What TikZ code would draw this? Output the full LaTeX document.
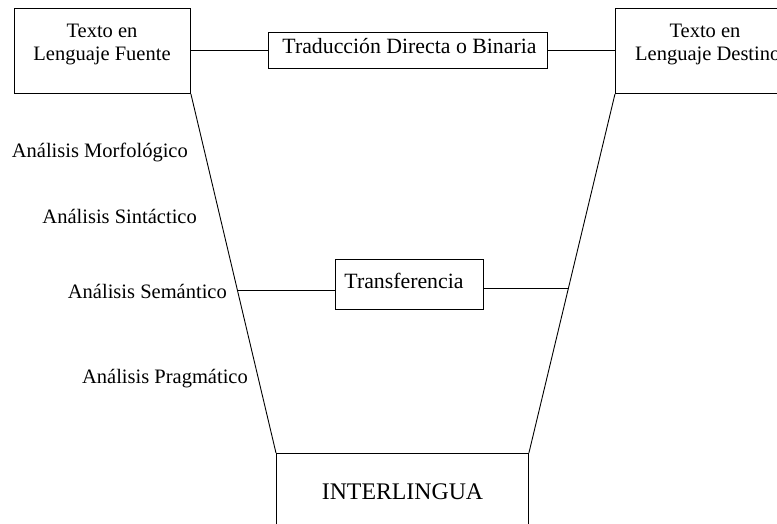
\documentclass[tikz,border=0pt]{standalone}
\usepackage{fontspec}
\setmainfont{Liberation Serif}
\usetikzlibrary{calc}
\begin{document}
\begin{tikzpicture}[x=1pt,y=-1pt,
  box/.style={draw, line width=0.9pt, inner sep=0pt},
  txt/.style={font=\fontsize{20.5}{23}\selectfont, inner sep=0pt},
  bigtxt/.style={font=\fontsize{21.8}{25}\selectfont, inner sep=0pt},
  link/.style={line width=0.9pt}]
\useasboundingbox (0,0) rectangle (777,523);
% boxes
\node[box, anchor=north west, minimum width=176pt, minimum height=85pt] (lf) at (14,8) {};
\node[box, anchor=north west, minimum width=176pt, minimum height=85pt] (rd) at (615,8) {};
\node[box, minimum width=279pt, minimum height=36pt] (td) at (407.5,50) {};
\node[box, minimum width=148pt, minimum height=50pt] (tr) at (409,284) {};
\node[box, anchor=north west, minimum width=252pt, minimum height=90pt] (il) at (276,453) {};
% box texts
\node[txt, anchor=base] (lf1) at (102,37) {Texto en};
\node[txt, anchor=base] (lf2) at (102,60) {Lenguaje Fuente};
\node[txt, anchor=base] (rd1) at (705,37) {Texto en};
\node[txt, anchor=base west] (rd2) at (635,60) {Lenguaje Destino};
\node[bigtxt, anchor=base] (tdt) at (409.5,53) {Traducción Directa o Binaria};
\node[bigtxt, anchor=base] (trt) at (404,288) {Transferencia};
\node[font=\fontsize{23.8}{27}\selectfont, inner sep=0pt, anchor=base] (ilt) at (402.5,499) {INTERLINGUA};
% labels
\node[txt, anchor=base east] (m) at (188,157) {Análisis Morfológico};
\node[txt, anchor=base east] (s) at (197,223) {Análisis Sintáctico};
\node[txt, anchor=base east] (se) at (227,298) {Análisis Semántico};
\node[txt, anchor=base east] (p) at (248,383) {Análisis Pragmático};
% connectors
\draw[link] (td.west -| lf.east) -- (td.west);
\draw[link] (td.east) -- (td.east -| rd.west);
\draw[link] (lf.south east) -- (il.north west);
\draw[link] (rd.south west) -- (il.north east);
\coordinate (tl) at ($(lf.south east)!0.547!(il.north west)$);
\coordinate (trr) at ($(rd.south west)!0.542!(il.north east)$);
\draw[link] (tl) -- (tl -| tr.west);
\draw[link] (trr -| tr.east) -- (trr);
\end{tikzpicture}
\end{document}
